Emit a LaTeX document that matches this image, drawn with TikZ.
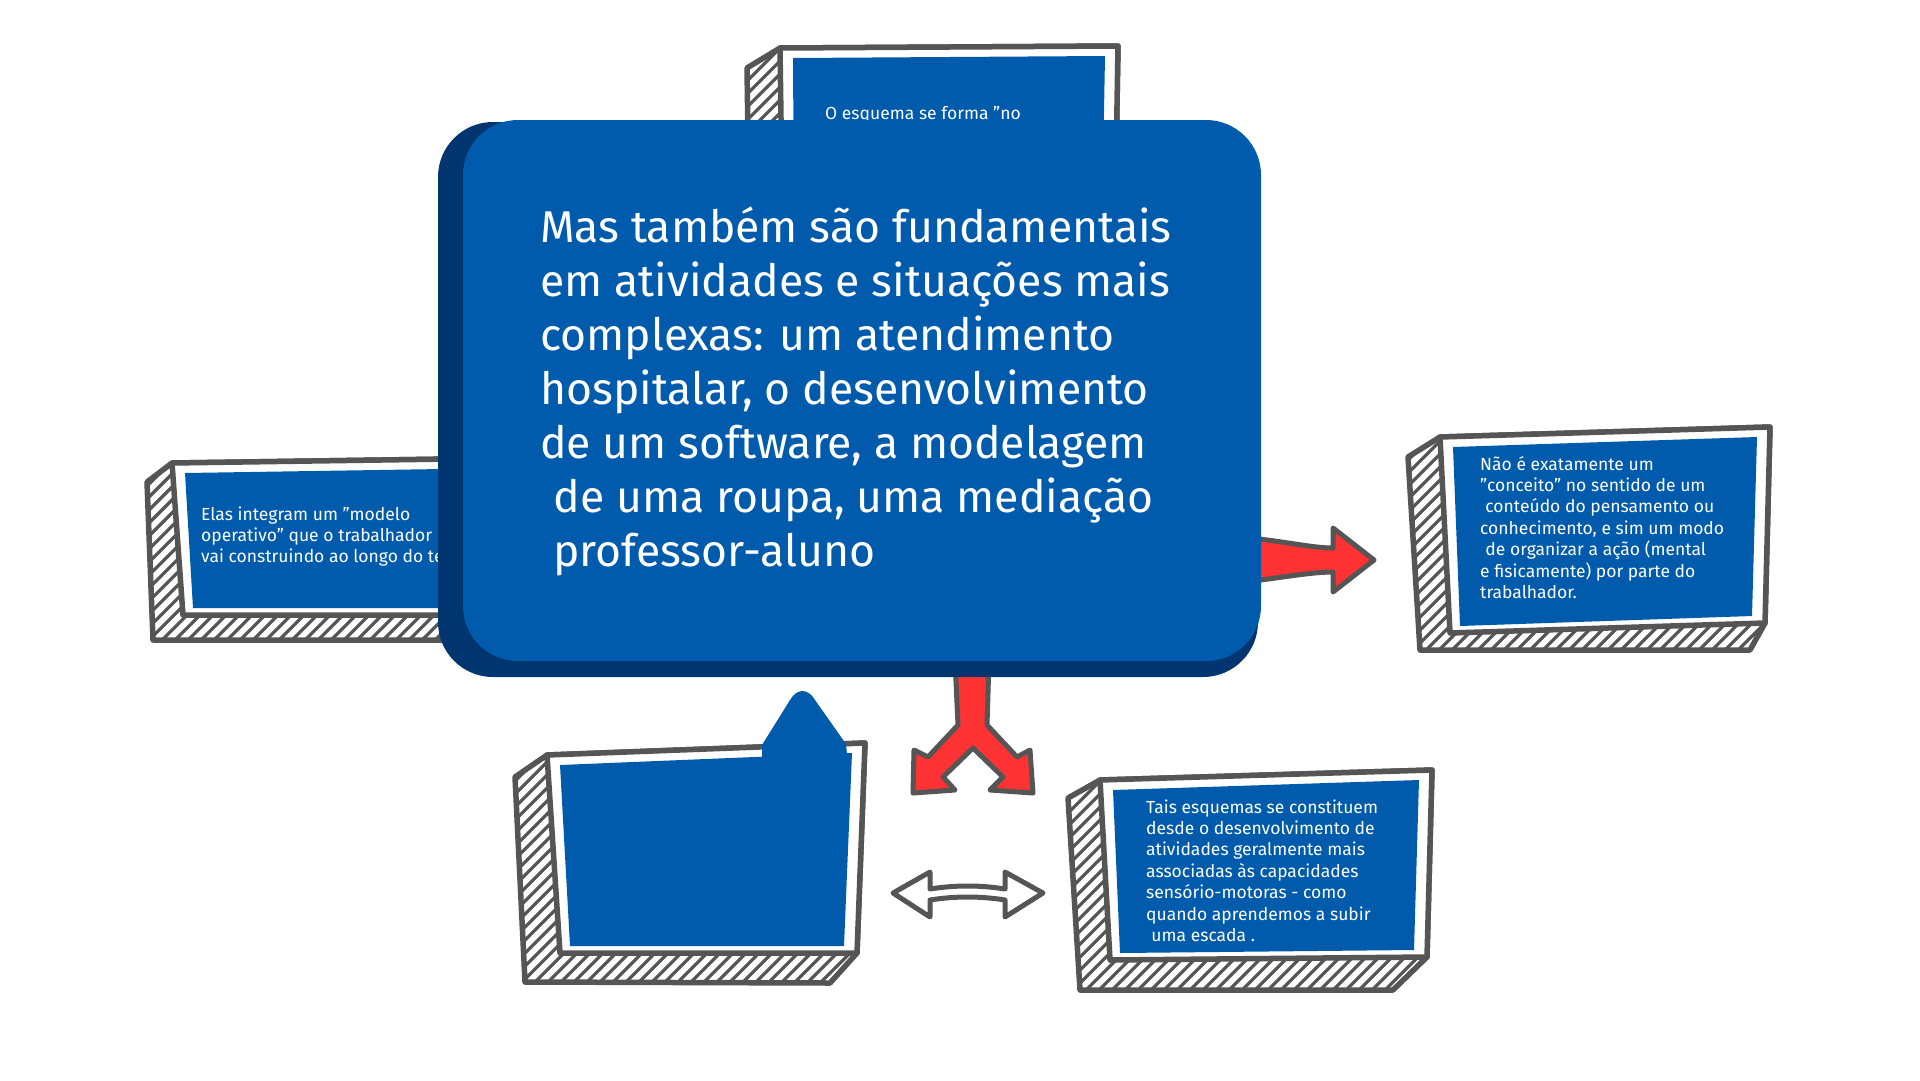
\documentclass[tikz,border=0pt]{standalone}
\usepackage{fontspec}
\setmainfont{Fira Sans}
\usetikzlibrary{calc}

\definecolor{boxblue}{HTML}{005BAC}
\definecolor{boxshade}{HTML}{003570}
\definecolor{sketchgray}{HTML}{555555}
\definecolor{arrowred}{HTML}{FF3333}

% frame corners tl tr br bl, then back corners tl bl br
\newcommand{\sketchbox}[7]{%
  \fill[white] (#5) -- (#1) -- (#2) -- (#3) -- (#7) -- (#6) -- cycle;
  \begin{scope}
    \clip (#5) -- (#1) -- (#2) -- (#3) -- (#7) -- (#6) -- cycle;
    \foreach \c in {620,633,...,2400}
      \draw[sketchhatch] (\c-1000,1000) -- (\c,0);
  \end{scope}
  \draw[sketchline] (#5) -- (#1) -- (#2) -- (#3) -- (#7) -- (#6) -- cycle;
  \filldraw[sketchline, fill=white] (#1) -- (#2) -- (#3) -- (#4) -- cycle;
  \fill[boxblue] ($(#1)+(13,10)$) -- ($(#2)+(-13,10)$) -- ($(#3)+(-13,-7)$) -- ($(#4)+(10,-7)$) -- cycle;
}

\begin{document}
\begin{tikzpicture}[x=1pt, y=-1pt,
  sketchline/.style={draw=sketchgray, line width=5.5pt, line join=round},
  sketchhatch/.style={draw=sketchgray, line width=3.2pt},
  blockarrow/.style={draw=sketchgray, line width=5pt, line join=round},
  bigtext/.style={text=white, font=\fontsize{44.5}{54}\selectfont, align=left, inner sep=0pt, anchor=base west},
  smalltext/.style={text=white, font=\fontsize{17.5}{21.4}\selectfont, align=left, inner sep=0pt, anchor=base west}
]
\useasboundingbox (0,0) rectangle (1920,1080);

% base anchors sit on the last line
\sketchbox{780,48}{1118,46}{1112,400}{785,400}{747,68}{752,420}{1095,420}
\node[smalltext] (esquema) at (825,119) {O esquema se forma "no};

\sketchbox{172,463}{520,458}{520,615}{183,615}{147,482}{153,640}{500,640}
\node[smalltext] (elas) at (201,562.8) {Elas integram um "modelo\\operativo" que o trabalhador\\vai construindo ao longo do tempo};

\filldraw[blockarrow, fill=arrowred] (1230,536) .. controls (1280,540) and (1310,548) .. (1333,548)
  -- (1333,528) -- (1374,560) -- (1333,592) -- (1333,572)
  .. controls (1310,572) and (1280,578) .. (1230,584) -- cycle;
\filldraw[blockarrow, fill=arrowred] (955,660) -- (958,725) -- (928,757) -- (914,750) -- (913,793)
  -- (955,790) -- (943,777) -- (973,748) -- (1003,777) -- (990,790) -- (1033,793)
  -- (1030,750) -- (1017,757) -- (987,725) -- (989,660) -- cycle;

\fill[boxshade, rounded corners=55] (438,122) rectangle (1258,677);
\fill[boxblue, rounded corners=55] (463,120) rectangle (1261,661);
\node[bigtext] (main) at (540,566) {Mas também são fundamentais\\em atividades e situações mais\\complexas: um atendimento\\hospitalar, o desenvolvimento\\de um software, a modelagem\\\hspace*{0.3em}de uma roupa, uma mediação\\\hspace*{0.3em}professor-aluno};

\sketchbox{1440,437}{1770,427}{1765,623}{1450,633}{1408,457}{1420,650}{1750,650}
\node[smalltext] (nao) at (1480,598.4) {Não é exatamente um\\"conceito" no sentido de um\\\hspace*{0.3em}conteúdo do pensamento ou\\conhecimento, e sim um modo\\\hspace*{0.3em}de organizar a ação (mental\\e fisicamente) por parte do\\trabalhador.};

\sketchbox{547,755}{865,743}{857,953}{560,953}{515,777}{525,982}{830,983}
\fill[boxblue] (762,765) -- (762,745) -- (790,700) .. controls (797,688) and (808,688) .. (815,700)
  -- (846,744) -- (848,765) -- cycle;

\sketchbox{1100,780}{1432,770}{1427,957}{1110,960}{1068,798}{1080,990}{1393,990}
\node[smalltext] (tais) at (1146,941.4) {Tais esquemas se constituem\\desde o desenvolvimento de\\atividades geralmente mais\\associadas às capacidades\\sensório-motoras - como\\quando aprendemos a subir\\\hspace*{0.3em}uma escada .};

\filldraw[blockarrow, fill=white] (893,893) -- (930,872) -- (930,889) .. controls (955,885) and (980,885) .. (1005,889)
  -- (1005,872) -- (1043,893) -- (1005,917) -- (1005,900) .. controls (980,896) and (955,896) .. (930,900)
  -- (930,917) -- cycle;
\end{tikzpicture}
\end{document}
